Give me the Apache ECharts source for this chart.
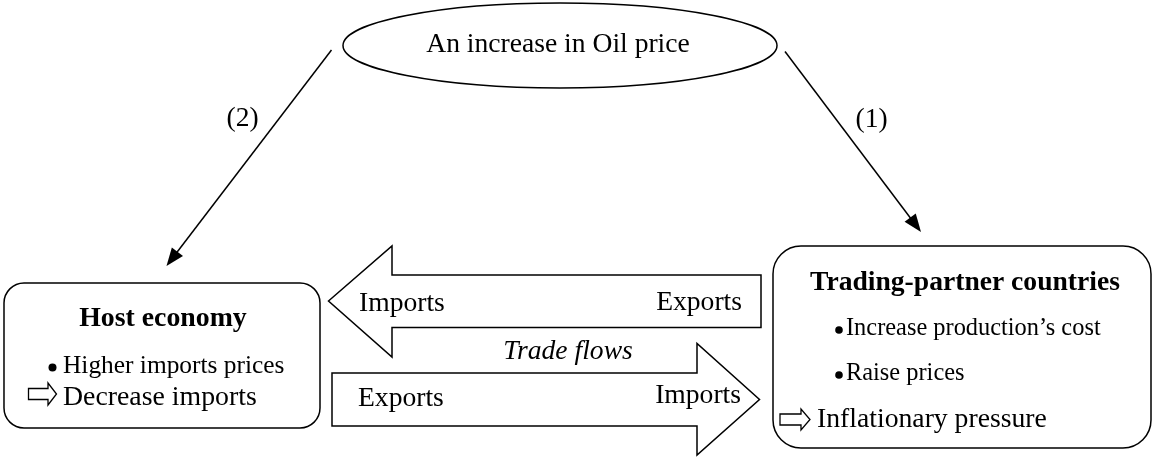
<!DOCTYPE html>
<html>
<head>
<meta charset="utf-8">
<script src="https://cdn.jsdelivr.net/npm/echarts@6/dist/echarts.min.js"></script>
<style>
html,body{margin:0;padding:0;background:#fff;}
#main{width:1154px;height:459px;}
</style>
</head>
<body>
<div id="main"></div>
<script>
// ---- Text content of the diagram ----
const topNode = ["An increase in Oil price"];
const channelLabels = ["(1)", "(2)"];
const hostLines = ["Host economy", "Higher imports prices", "Decrease imports"];
const partnerLines = ["Trading-partner countries", "Increase production\u2019s cost", "Raise prices", "Inflationary pressure"];
const flowLabels = ["Imports", "Exports", "Trade flows", "Exports", "Imports"];

const FONT = "'Liberation Serif', 'Times New Roman', serif";
const INK = "#000";
const LW = 1.5;

const chart = echarts.init(document.getElementById('main'), null, {renderer: 'canvas'});

function cy(baseline, fs) { return baseline - 0.26 * fs; }

function txt(s, x, baseline, fs, opt) {
  opt = opt || {};
  return {
    type: 'text', z: 10,
    style: {
      text: s, x: x, y: cy(baseline, fs),
      font: (opt.italic ? 'italic ' : '') + (opt.bold ? 'bold ' : '') + fs + 'px ' + FONT,
      fill: INK,
      align: opt.align || 'left',
      verticalAlign: 'middle'
    }
  };
}

function arrowLine(x1, y1, x2, y2) {
  const dx = x2 - x1, dy = y2 - y1, L = Math.sqrt(dx * dx + dy * dy);
  const ux = dx / L, uy = dy / L, px = -uy, py = ux;
  const hl = 18, hw = 7;
  const bx = x2 - ux * hl, by = y2 - uy * hl;
  return [
    {type: 'line', shape: {x1: x1, y1: y1, x2: bx + ux * 2, y2: by + uy * 2},
     style: {stroke: INK, lineWidth: LW}},
    {type: 'polygon', shape: {points: [[x2, y2], [bx + px * hw, by + py * hw], [bx - px * hw, by - py * hw]]},
     style: {fill: INK}}
  ];
}

function hollowArrow(x0, x1, xb, ymid, headH, shaftH) {
  return {
    type: 'polygon',
    shape: {points: [
      [x0, ymid - shaftH / 2], [xb, ymid - shaftH / 2], [xb, ymid - headH / 2],
      [x1, ymid], [xb, ymid + headH / 2], [xb, ymid + shaftH / 2], [x0, ymid + shaftH / 2]
    ]},
    style: {fill: '#fff', stroke: INK, lineWidth: 1.3, lineJoin: 'miter'}
  };
}

const els = [];

// Top ellipse
els.push({type: 'ellipse', shape: {cx: 560, cy: 45.5, rx: 217, ry: 42.5},
  style: {fill: '#fff', stroke: INK, lineWidth: LW}});
els.push(txt(topNode[0], 558, 52, 27.6, {align: 'center'}));

// Channel arrows
els.push(...arrowLine(331.5, 50, 166.5, 266));
els.push(...arrowLine(785, 51.5, 921, 232));
els.push(txt(channelLabels[1], 242.5, 125.5, 27.5, {align: 'center'}));
els.push(txt(channelLabels[0], 871.5, 127, 27.5, {align: 'center'}));

// Host economy box
els.push({type: 'rect', shape: {x: 4, y: 283, width: 316, height: 145, r: 20},
  style: {fill: '#fff', stroke: INK, lineWidth: LW}});
els.push(txt(hostLines[0], 163, 326, 27.8, {bold: true, align: 'center'}));
els.push({type: 'circle', shape: {cx: 52.5, cy: 367.5, r: 4}, style: {fill: INK}});
els.push(txt(hostLines[1], 63, 373, 25.4));
els.push(hollowArrow(28.5, 56.5, 48, 394, 22, 11));
els.push(txt(hostLines[2], 63, 405, 27.8));

// Trading partner box
els.push({type: 'rect', shape: {x: 773, y: 246, width: 378, height: 202, r: 28},
  style: {fill: '#fff', stroke: INK, lineWidth: LW}});
els.push(txt(partnerLines[0], 965, 290, 27.6, {bold: true, align: 'center'}));
els.push({type: 'circle', shape: {cx: 839, cy: 330, r: 3.8}, style: {fill: INK}});
els.push(txt(partnerLines[1], 846, 335, 24.4));
els.push({type: 'circle', shape: {cx: 839, cy: 375, r: 3.8}, style: {fill: INK}});
els.push(txt(partnerLines[2], 846, 380, 24.4));
els.push(hollowArrow(780, 810, 801, 419.5, 21, 11));
els.push(txt(partnerLines[3], 817, 427, 27.7));

// Trade flow arrows
els.push({type: 'polygon', shape: {points: [
  [328.5, 301], [392, 246], [392, 275], [761, 275], [761, 327.5], [392, 327.5], [392, 357]
]}, style: {fill: '#fff', stroke: INK, lineWidth: LW, lineJoin: 'miter'}});
els.push({type: 'polygon', shape: {points: [
  [332, 373], [697, 373], [697, 343.5], [759.5, 399.5], [697, 455], [697, 426], [332, 426]
]}, style: {fill: '#fff', stroke: INK, lineWidth: LW, lineJoin: 'miter'}});
els.push(txt(flowLabels[0], 359, 311, 27.6));
els.push(txt(flowLabels[1], 742, 310, 27.6, {align: 'right'}));
els.push(txt(flowLabels[2], 568, 359, 27.6, {italic: true, align: 'center'}));
els.push(txt(flowLabels[3], 358, 406, 27.6));
els.push(txt(flowLabels[4], 741, 403, 27.6, {align: 'right'}));

chart.setOption({
  backgroundColor: '#fff',
  animation: false,
  graphic: {elements: els}
});
</script>
</body>
</html>
